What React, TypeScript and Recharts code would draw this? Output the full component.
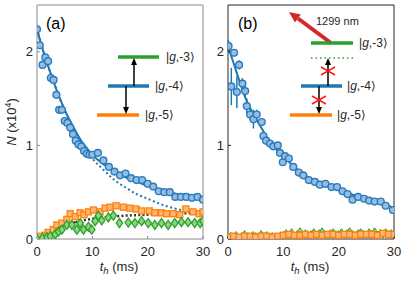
import React from 'react';
import { ComposedChart, Scatter, Line, XAxis, YAxis, ErrorBar } from 'recharts';

// panel (a): measured atom numbers (x10^4) vs hold time t_h (ms)
const tA = [0, 0.5, 1, 1.5, 2, 2.5, 3, 3.5, 4, 4.5, 5, 5.5, 6, 6.5, 7, 7.5, 8, 8.5, 9, 9.5, 10,
  11, 12, 13, 14, 15, 16, 17, 18, 19, 20, 21, 22, 23, 24, 25, 26, 27, 28, 29, 30];
const blueA = [2.24, 2.07, 1.86, 1.94, 1.9, 1.72, 1.7, 1.54, 1.38, 1.38, 1.26, 1.24, 1.19, 1.12, 1.05, 1.01, 0.99, 0.94, 0.91, 0.9, 0.9,
  0.92, 0.84, 0.77, 0.72, 0.68, 0.7, 0.65, 0.63, 0.63, 0.59, 0.56, 0.51, 0.5, 0.5, 0.45, 0.45, 0.45, 0.44, 0.45, 0.42];

const tOrangeA = [0, 0.55, 1.45, 2, 2.95, 3.6, 4.5, 5.4, 6, 6.9, 7.8, 8.5, 9.3, 10.2, 11.4, 12.3, 13.2, 14.3,
  15.6, 16.8, 17.9, 18.9, 20.3, 21.3, 22.5, 23.4, 24.6, 25.8, 26.9, 28.2, 29.3, 30];
const orangeA = [0.01, 0.03, 0.04, 0.07, 0.1, 0.15, 0.17, 0.21, 0.27, 0.24, 0.28, 0.26, 0.29, 0.31, 0.29, 0.33, 0.34, 0.355,
  0.34, 0.33, 0.32, 0.3, 0.3, 0.28, 0.28, 0.27, 0.27, 0.26, 0.32, 0.29, 0.27, 0.29];

const tGreenA = [0, 1, 1.8, 2.4, 3.3, 3.9, 4.5, 5.4, 6.3, 7.2, 7.8, 8.4, 9.3, 9.9, 10.5, 11.1, 11.7, 12.9, 13.8, 14.9,
  16.5, 17.7, 18.9, 20.1, 21.3, 22.5, 23.7, 24.9, 26.1, 27.3, 28.5, 29.5, 30];
const greenA = [0, 0.01, 0.02, 0.03, 0.05, 0.08, 0.1, 0.15, 0.15, 0.1, 0.17, 0.1, 0.13, 0.1, 0.19, 0.25, 0.2, 0.23, 0.25, 0.17,
  0.175, 0.17, 0.19, 0.17, 0.15, 0.17, 0.15, 0.17, 0.18, 0.18, 0.17, 0.17, 0.19];

const tFitA = [0, 1, 2, 3, 4, 5, 6, 7, 8, 9, 10, 12, 14, 16, 18, 20, 22, 24, 26, 28, 30];
const fitA = [2.24, 2.03, 1.85, 1.68, 1.52, 1.38, 1.26, 1.15, 1.05, 0.97, 0.9, 0.8, 0.72, 0.66, 0.61, 0.57, 0.53, 0.5, 0.47, 0.45, 0.43];

const tModelA = [0, 2, 4, 6, 8, 10, 12, 14, 16, 18, 20, 22, 24, 26, 28, 30];
const modelA = [2.24, 1.85, 1.52, 1.25, 1.02, 0.86, 0.74, 0.63, 0.55, 0.48, 0.43, 0.38, 0.34, 0.31, 0.29, 0.27];

const tRiseA = [0, 1, 2, 3, 4, 5, 6, 7];
const riseA = [0, 0.035, 0.07, 0.1, 0.125, 0.145, 0.165, 0.18];
const tRiseDotA = [7, 8, 10, 12, 14, 16, 18, 20, 22, 24, 26, 28, 30];
const riseDotA = [0.18, 0.195, 0.215, 0.23, 0.24, 0.25, 0.255, 0.26, 0.265, 0.27, 0.273, 0.277, 0.28];

// panel (b)
const tB = [0.1, 0.6, 1.1, 1.6, 2, 2.6, 3.1, 3.4, 4, 4.6, 5.2, 6.1, 6.4, 6.9, 7.6, 8.2, 9, 9.4, 9.9, 10.3,
  11, 11.8, 12.8, 13.6, 14.6, 15.7, 16.6, 17.6, 18.7, 19.7, 20.7, 21.6, 22.5, 23.5, 24.6, 25.5, 26.5, 27.6, 28.5, 29.8];
const blueB = [2.06, 1.63, 1.99, 1.57, 1.86, 1.66, 1.58, 1.42, 1.33, 1.28, 1.33, 1.25, 1.1, 1.05, 1.02, 0.99, 1.0, 0.92, 0.82, 0.885,
  0.86, 0.77, 0.71, 0.68, 0.63, 0.61, 0.58, 0.59, 0.555, 0.555, 0.51, 0.48, 0.42, 0.45, 0.43, 0.41, 0.4, 0.4, 0.355, 0.31];
const errB = [0.06, 0.2, 0.04, 0.17, 0.05, 0.06, 0.07, 0.08, 0.06, 0.1, 0.05, 0.04, 0.05, 0.04, 0.03, 0.04, 0.03, 0.04, 0.03, 0.03,
  0.02, 0.02, 0.02, 0.02, 0.02, 0.02, 0.02, 0.02, 0.02, 0.02, 0.02, 0.02, 0.02, 0.02, 0.02, 0.02, 0.02, 0.02, 0.02, 0.02];

const tFitB = [0, 1, 2, 3, 4, 5, 6, 7, 8, 9, 10, 12, 14, 16, 18, 20, 22, 24, 26, 28, 30];
const fitB = [2.06, 1.88, 1.7, 1.53, 1.4, 1.29, 1.19, 1.09, 1.01, 0.94, 0.88, 0.77, 0.68, 0.61, 0.56, 0.52, 0.48, 0.45, 0.42, 0.38, 0.33];

const tOrangeB = [0, 1, 2, 3, 4, 5, 6, 7, 8, 9, 10, 11, 12, 13, 14, 15, 16, 17, 18, 19, 20, 21, 22, 23, 24, 25, 26, 27, 28, 29, 30];
const orangeB = [0.02, 0.03, 0.02, 0.03, 0.03, 0.02, 0.03, 0.03, 0.02, 0.03, 0.04, 0.05, 0.04, 0.04, 0.05, 0.04,
  0.05, 0.04, 0.05, 0.05, 0.04, 0.05, 0.05, 0.04, 0.05, 0.05, 0.05, 0.04, 0.06, 0.05, 0.05];

const tGreenB = [0, 0.5, 1, 1.5, 2, 2.5, 3, 3.5, 4, 4.5, 5, 5.5, 6, 6.5, 7, 7.5, 8, 8.5, 9, 9.5, 10,
  10.5, 11, 11.5, 12, 12.5, 13, 13.5, 14, 14.5, 15, 15.5, 16, 16.5, 17, 17.5, 18, 18.5, 19, 19.5, 20,
  20.5, 21, 21.5, 22, 22.5, 23, 23.5, 24, 24.5, 25, 25.5, 26, 26.5, 27, 27.5, 28, 28.5, 29, 29.5, 30];
const greenB = [0.02, 0.04, 0.03, 0.05, 0.02, 0.04, 0.06, 0.03, 0.02, 0.05, 0.04, 0.02, 0.06, 0.03, 0.05, 0.02, 0.04, 0.03, 0.01, 0.04, 0.05,
  0.07, 0.05, 0.08, 0.04, 0.06, 0.09, 0.05, 0.07, 0.04, 0.06, 0.08, 0.05, 0.07, 0.09, 0.06, 0.04, 0.07, 0.08, 0.05, 0.06,
  0.08, 0.05, 0.07, 0.09, 0.06, 0.04, 0.07, 0.08, 0.06, 0.05, 0.08, 0.06, 0.09, 0.05, 0.07, 0.04, 0.08, 0.06, 0.07, 0.05];

const tRiseB = [0, 5, 10, 15, 20, 25, 30];
const riseB = [0.01, 0.03, 0.045, 0.055, 0.062, 0.067, 0.07];

const xTicks = [0, 10, 20, 30];
const yTicks = [0, 1, 2];

const pts = (t: number[], n: number[], e?: number[]) =>
  t.map((x, i) => ({ t: x, n: n[i], e: e ? e[i] : 0 }));

const BLUE = '#1f77b4';
const ORANGE = '#ff7f0e';
const GREEN = '#2ca02c';
const FONT = '"Liberation Sans", Arial, Helvetica, sans-serif';

const Circ = (p: any) => (
  <circle cx={p.cx} cy={p.cy} r={3.4} fill="#93bde4" stroke="#2b7bba" strokeWidth={1.4} />
);
const Sq = (p: any) => (
  <rect x={p.cx - 3} y={p.cy - 3} width={6} height={6} fill="#ffb870" stroke={ORANGE} strokeWidth={1.3} />
);
const Dia = (p: any) => (
  <polygon points={`${p.cx},${p.cy - 4.5} ${p.cx + 3.2},${p.cy} ${p.cx},${p.cy + 4.5} ${p.cx - 3.2},${p.cy}`}
    fill="#90d47f" stroke={GREEN} strokeWidth={1.3} />
);
const DiaSmall = (p: any) => (
  <polygon points={`${p.cx},${p.cy - 2.8} ${p.cx + 1.8},${p.cy} ${p.cx},${p.cy + 2.8} ${p.cx - 1.8},${p.cy}`}
    fill="#90d47f" stroke={GREEN} strokeWidth={1} />
);

function frame(color: string, leftW: number) {
  const tick = { fill: '#262626', fontSize: 13, fontFamily: FONT };
  return [
    <XAxis key="xb" xAxisId={0} dataKey="t" type="number" domain={[0, 30]} ticks={xTicks} interval={0}
      allowDataOverflow stroke={color} tickSize={-3} tickMargin={11} height={50} tick={tick} />,
    <XAxis key="xt" xAxisId="top" orientation="top" type="number" domain={[0, 30]} ticks={xTicks} interval={0}
      stroke={color} tickSize={-3} height={1} tick={false} />,
    <YAxis key="yl" yAxisId={0} dataKey="n" type="number" domain={[0, 2.5]} ticks={yTicks} interval={0}
      allowDataOverflow stroke={color} tickSize={-3} tickMargin={7} width={leftW} tick={tick} />,
    <YAxis key="yr" yAxisId="right" orientation="right" type="number" domain={[0, 2.5]} ticks={yTicks} interval={0}
      stroke={color} tickSize={-3} width={1} tick={false} />,
  ];
}

const Ket = ({ x, y, n }: { x: number; y: number; n: number }) => (
  <text x={x} y={y} fontSize={12} dominantBaseline="central" fill="#262626">
    |<tspan fontStyle="italic">g</tspan>,-{n}⟩
  </text>
);

const Arrow = ({ x, y1, y2 }: { x: number; y1: number; y2: number }) => {
  const d = y2 > y1 ? 1 : -1;
  return (
    <g>
      <line x1={x} y1={y1} x2={x} y2={y2 - d * 6} stroke="#000" strokeWidth={1.5} />
      <polygon points={`${x},${y2} ${x - 3},${y2 - d * 7} ${x + 3},${y2 - d * 7}`} fill="#000" />
    </g>
  );
};

const Cross = ({ x, y }: { x: number; y: number }) => (
  <g stroke="#ff1a1a" strokeWidth={1.6}>
    <line x1={x - 7} y1={y - 4} x2={x + 7} y2={y + 4} />
    <line x1={x - 7} y1={y + 4} x2={x + 7} y2={y - 4} />
  </g>
);

export default function App() {
  return (
    <div style={{ position: 'absolute', left: 0, top: 0, width: 415, height: 289, background: '#fff', fontFamily: FONT }}>
      <div style={{ position: 'absolute', left: 0, top: 0 }}>
        <ComposedChart width={216} height={289} margin={{ top: 4, right: 12, bottom: 0, left: 0 }}>
          {frame('#8c8c8c', 37)}
          <Line data={pts(tModelA, modelA)} dataKey="n" type="monotone" dot={false} stroke={BLUE}
            strokeWidth={2} strokeDasharray="2 2.6" isAnimationActive={false} />
          <Scatter data={pts(tOrangeA, orangeA)} dataKey="n" shape={Sq} isAnimationActive={false} />
          <Scatter data={pts(tGreenA, greenA)} dataKey="n" shape={Dia} isAnimationActive={false} />
          <Line data={pts(tRiseA, riseA)} dataKey="n" type="monotone" dot={false} stroke="#333"
            strokeWidth={2.5} isAnimationActive={false} />
          <Line data={pts(tRiseDotA, riseDotA)} dataKey="n" type="monotone" dot={false} stroke="#333"
            strokeWidth={2.5} strokeDasharray="2 2.2" isAnimationActive={false} />
          <Scatter data={pts(tA, blueA)} dataKey="n" shape={Circ} isAnimationActive={false} />
          <Line data={pts(tFitA, fitA)} dataKey="n" type="monotone" dot={false} stroke={BLUE}
            strokeWidth={2} isAnimationActive={false} />
        </ComposedChart>
      </div>
      <div style={{ position: 'absolute', left: 208, top: 0 }}>
        <ComposedChart width={207} height={289} margin={{ top: 4, right: 20, bottom: 0, left: 0 }}>
          {frame('#262626', 20)}
          <Scatter data={pts(tB, blueB, errB)} dataKey="n" shape={Circ} isAnimationActive={false}>
            <ErrorBar dataKey="e" direction="y" width={0} stroke={BLUE} strokeWidth={1.5} />
          </Scatter>
          <Line data={pts(tFitB, fitB)} dataKey="n" type="monotone" dot={false} stroke={BLUE}
            strokeWidth={2} isAnimationActive={false} />
          <Scatter data={pts(tGreenB, greenB)} dataKey="n" shape={DiaSmall} isAnimationActive={false} />
          <Scatter data={pts(tOrangeB, orangeB)} dataKey="n" shape={Sq} isAnimationActive={false} />
          <Line data={pts(tRiseB, riseB)} dataKey="n" type="monotone" dot={false} stroke="#333"
            strokeWidth={2.5} isAnimationActive={false} />
        </ComposedChart>
      </div>
      <svg width={415} height={289} style={{ position: 'absolute', left: 0, top: 0, pointerEvents: 'none' }}
        fontFamily={FONT}>
        {/* panel labels */}
        <text x={46} y={29} fontSize={16} fill="#000">(a)</text>
        <text x={238} y={29} fontSize={16} fill="#000">(b)</text>

        {/* axis titles */}
        <text transform="translate(16,122) rotate(-90)" textAnchor="middle" fontSize={13} fill="#262626">
          <tspan fontStyle="italic">N</tspan> (x10<tspan fontSize={9} dy={-5}>4</tspan><tspan dy={5}>)</tspan>
        </text>
        {[119, 310].map((cx) => (
          <text key={cx} x={cx} y={271} textAnchor="middle" fontSize={13} fill="#262626">
            <tspan fontStyle="italic">t</tspan><tspan fontStyle="italic" fontSize={9.5} dy={3}>h</tspan>
            <tspan dy={-3}> (ms)</tspan>
          </text>
        ))}

        {/* level diagram (a) */}
        <line x1={118} x2={159} y1={57} y2={57} stroke={GREEN} strokeWidth={3.5} />
        <line x1={108} x2={149} y1={86} y2={86} stroke={BLUE} strokeWidth={3.5} />
        <line x1={97} x2={139} y1={115} y2={115} stroke={ORANGE} strokeWidth={3.5} />
        <Arrow x={134} y1={86} y2={58} />
        <Arrow x={126} y1={86} y2={114} />
        <Ket x={166} y={57} n={3} />
        <Ket x={155} y={86} n={4} />
        <Ket x={145} y={115} n={5} />

        {/* level diagram (b) */}
        <line x1={298} y1={18.5} x2={331} y2={43} stroke="#d62728" strokeWidth={4} />
        <polygon points="289,12 300.8,14.5 294.9,22.6" fill="#d62728" />
        <text x={316} y={25} fontSize={11} fill="#262626">1299 nm</text>
        <line x1={311} x2={353} y1={43} y2={43} stroke={GREEN} strokeWidth={3.5} />
        <line x1={311} x2={353} y1={58} y2={58} stroke={GREEN} strokeWidth={1.5} strokeDasharray="1.5 3" />
        <line x1={301} x2={342} y1={86} y2={86} stroke={BLUE} strokeWidth={3.5} />
        <line x1={290} x2={332} y1={115} y2={115} stroke={ORANGE} strokeWidth={3.5} />
        <Arrow x={328} y1={86} y2={58} />
        <Arrow x={319} y1={86} y2={114} />
        <Cross x={328} y={71} />
        <Cross x={319} y={100} />
        <Ket x={359} y={43} n={3} />
        <Ket x={347} y={86} n={4} />
        <Ket x={337} y={115} n={5} />
      </svg>
    </div>
  );
}
